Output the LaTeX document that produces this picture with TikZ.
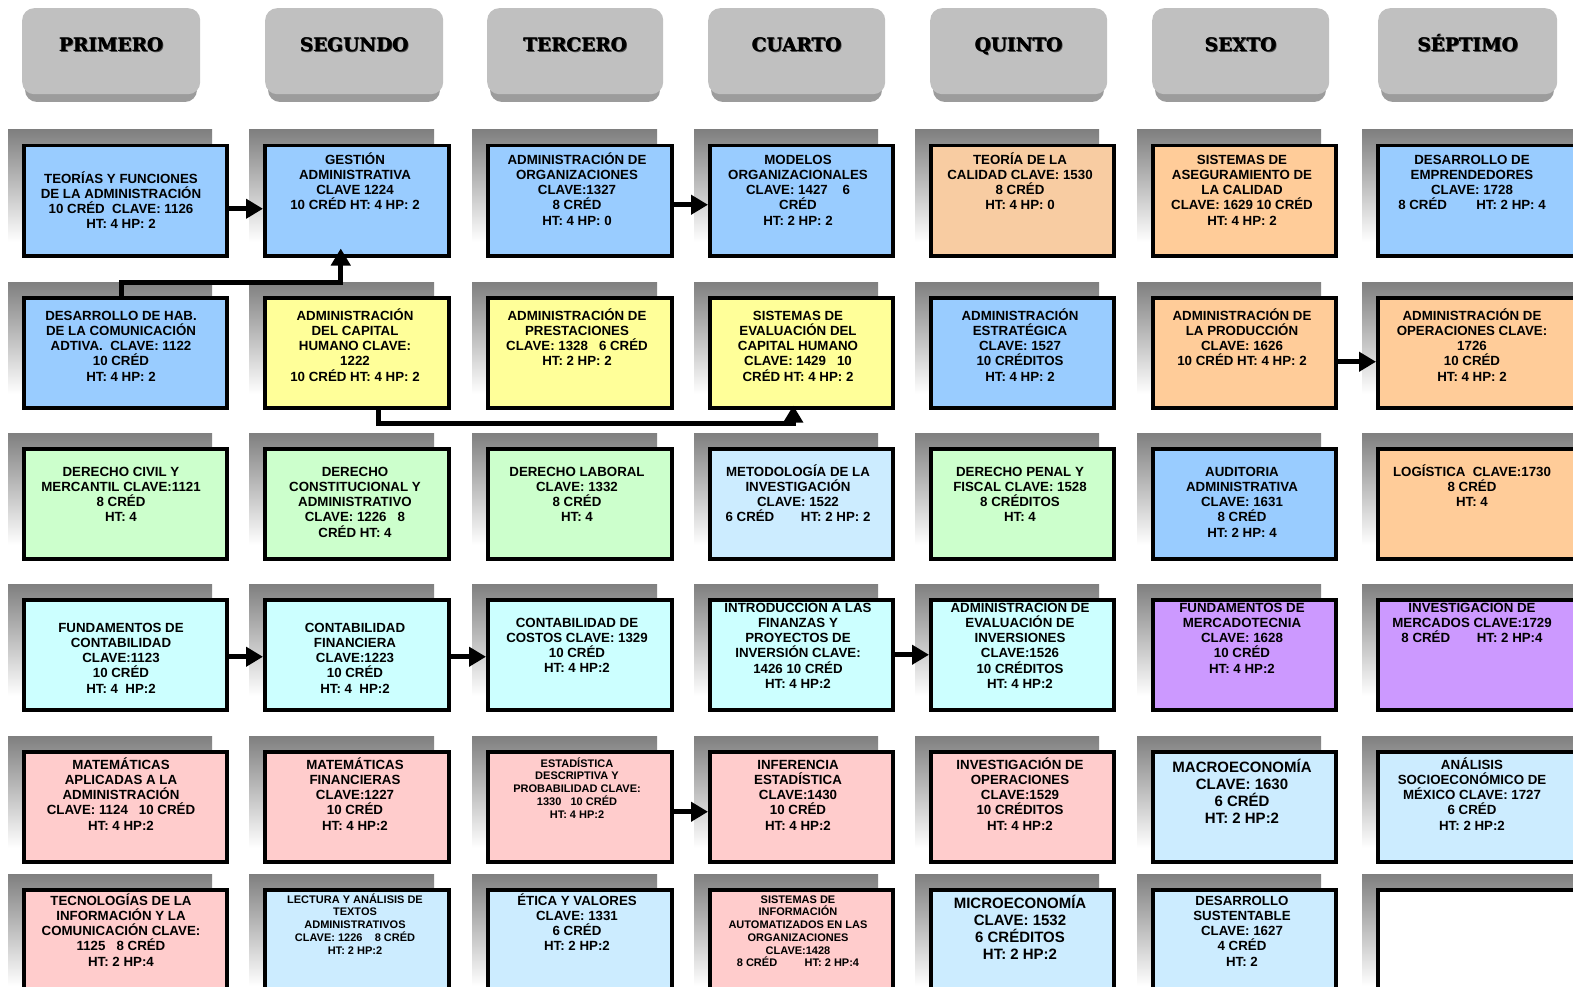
\documentclass[tikz,border=0pt]{standalone}
\usepackage{fontspec}
\setmainfont{Liberation Sans}
\newfontfamily\hdrfont{DejaVu Serif}
\usetikzlibrary{arrows.meta}
\definecolor{cblue}{HTML}{99CCFF}
\definecolor{cyellow}{HTML}{FFFF99}
\definecolor{cgreen}{HTML}{CCFFCC}
\definecolor{ccyan}{HTML}{CCFFFF}
\definecolor{cpink}{HTML}{FFCCCC}
\definecolor{clight}{HTML}{CCECFF}
\definecolor{corange}{HTML}{FFCC99}
\definecolor{corangeb}{HTML}{F8CCA2}
\definecolor{cpurple}{HTML}{CC99FF}
\definecolor{shade}{HTML}{C0C0C0}
\definecolor{hlight}{HTML}{C0C0C0}
\definecolor{hdark}{HTML}{9C9C9C}
\tikzset{
  box/.style={draw=black, line width=3.5pt, inner sep=0pt, anchor=north west},
  nt/.style={align=center, inner sep=0pt, anchor=north, yshift=8.2pt,
    font={\bfseries\fontsize{13.3}{15.3}\selectfont\def\mystrut{\rule{0pt}{13pt}}}},
  st/.style={align=center, inner sep=0pt, anchor=north, yshift=7pt,
    font={\bfseries\fontsize{11}{12.7}\selectfont\def\mystrut{\rule{0pt}{11pt}}}},
  lt/.style={align=center, inner sep=0pt, anchor=north, yshift=9.6pt,
    font={\bfseries\fontsize{15}{17}\selectfont\def\mystrut{\rule{0pt}{15pt}}}},
  hdr/.style={fill=hlight, rounded corners=12pt, inner sep=0pt, anchor=north west},
  htext/.style={font={\hdrfont\bfseries\fontsize{18.5}{21}\selectfont}, inner sep=0pt, anchor=base},
  arr/.style={line width=5pt, -{Triangle[length=17pt,width=19pt]}},
}
% name, xl, yt, xr, fill, cx, c1, textstyle, text
\newcommand\course[9]{%
  \fill[shade] (#2-14,#3-14) rectangle (#4-13,#3+98);
  \node[box, fill=#5, minimum width=#4-#2, minimum height=110] (#1) at (#2,#3) {};
  \node[#8] (#1t) at (#6,#7) {\mystrut #9};
}
% name, xl, xr, text
\newcommand\header[4]{%
  \fill[hdark, rounded corners=12pt] (#2+3,24) rectangle (#3-3,102);
  \node[hdr, minimum width=#3-#2, minimum height=86] (#1) at (#2,8) {};
  \node[htext, text=black!70] at ({(#2+#3)/2+1.2},52.2) {#4};
  \node[htext] at ({(#2+#3)/2+0.5},51.5) {#4};
  \node[htext] (#1t) at ({(#2+#3)/2},51.5) {#4};
}
\begin{document}
\begin{tikzpicture}[x=1pt,y=-1pt]
\useasboundingbox (0,0) rectangle (1573,987);
\clip (0,0) rectangle (1573,987);
\fill[white] (0,0) rectangle (1573,987);

\header{h1}{22}{200}{PRIMERO}
\header{h2}{265}{443}{SEGUNDO}
\header{h3}{487}{663}{TERCERO}
\header{h4}{708}{885}{CUARTO}
\header{h5}{930}{1107}{QUINTO}
\header{h6}{1152}{1329}{SEXTO}
\header{h7}{1378}{1557}{SÉPTIMO}

% Row 1
\course{t11}{22}{144}{225}{cblue}{121}{178}{nt}{TEORÍAS Y FUNCIONES\\DE LA ADMINISTRACIÓN\\10 CRÉD~~CLAVE: 1126\\HT: 4 HP: 2}
\course{t12}{263}{144}{447}{cblue}{355}{159}{nt}{GESTIÓN\\ADMINISTRATIVA\\CLAVE 1224\\10 CRÉD HT: 4 HP: 2}
\course{t13}{486}{144}{670}{cblue}{577}{159}{nt}{ADMINISTRACIÓN DE\\ORGANIZACIONES\\CLAVE:1327\\8 CRÉD\\HT: 4 HP: 0}
\course{t14}{708}{144}{891}{cblue}{798}{159}{nt}{MODELOS\\ORGANIZACIONALES\\CLAVE: 1427~~~~6\\CRÉD\\HT: 2 HP: 2}
\course{t15}{929}{144}{1112}{corangeb}{1020}{159}{nt}{TEORÍA DE LA\\CALIDAD CLAVE: 1530\\8 CRÉD\\HT: 4 HP: 0}
\course{t16}{1151}{144}{1334}{corange}{1242}{159}{nt}{SISTEMAS DE\\ASEGURAMIENTO DE\\LA CALIDAD\\CLAVE: 1629 10 CRÉD\\HT: 4 HP: 2}
\course{t17}{1376}{144}{1600}{cblue}{1472}{159}{nt}{DESARROLLO DE\\EMPRENDEDORES\\CLAVE: 1728\\8 CRÉD\hspace{2.2em}HT: 2 HP: 4}

% Row 2
\course{t21}{22}{296}{225}{cblue}{121}{315}{nt}{DESARROLLO DE HAB.\\DE LA COMUNICACIÓN\\ADTIVA.~~CLAVE: 1122\\10 CRÉD\\HT: 4 HP: 2}
\course{t22}{263}{296}{447}{cyellow}{355}{315}{nt}{ADMINISTRACIÓN\\DEL CAPITAL\\HUMANO CLAVE:\\1222\\10 CRÉD HT: 4 HP: 2}
\course{t23}{486}{296}{670}{cyellow}{577}{315}{nt}{ADMINISTRACIÓN DE\\PRESTACIONES\\CLAVE: 1328~~~6 CRÉD\\HT: 2 HP: 2}
\course{t24}{708}{296}{891}{cyellow}{798}{315}{nt}{SISTEMAS DE\\EVALUACIÓN DEL\\CAPITAL HUMANO\\CLAVE: 1429~~~10\\CRÉD HT: 4 HP: 2}
\course{t25}{929}{296}{1112}{cblue}{1020}{315}{nt}{ADMINISTRACIÓN\\ESTRATÉGICA\\CLAVE: 1527\\10 CRÉDITOS\\HT: 4 HP: 2}
\course{t26}{1151}{296}{1334}{corange}{1242}{315}{nt}{ADMINISTRACIÓN DE\\LA PRODUCCIÓN\\CLAVE: 1626\\10 CRÉD HT: 4 HP: 2}
\course{t27}{1376}{296}{1600}{corange}{1472}{315}{nt}{ADMINISTRACIÓN DE\\OPERACIONES CLAVE:\\1726\\10 CRÉD\\HT: 4 HP: 2}

% Row 3
\course{t31}{22}{447}{225}{cgreen}{121}{471}{nt}{DERECHO CIVIL Y\\MERCANTIL CLAVE:1121\\8 CRÉD\\HT: 4}
\course{t32}{263}{447}{447}{cgreen}{355}{471}{nt}{DERECHO\\CONSTITUCIONAL Y\\ADMINISTRATIVO\\CLAVE: 1226~~~8\\CRÉD HT: 4}
\course{t33}{486}{447}{670}{cgreen}{577}{471}{nt}{DERECHO LABORAL\\CLAVE: 1332\\8 CRÉD\\HT: 4}
\course{t34}{708}{447}{891}{clight}{798}{471}{nt}{METODOLOGÍA DE LA\\INVESTIGACIÓN\\CLAVE: 1522\\6 CRÉD\hspace{2em}HT: 2 HP: 2}
\course{t35}{929}{447}{1112}{cgreen}{1020}{471}{nt}{DERECHO PENAL Y\\FISCAL CLAVE: 1528\\8 CRÉDITOS\\HT: 4}
\course{t36}{1151}{447}{1334}{cblue}{1242}{471}{nt}{AUDITORIA\\ADMINISTRATIVA\\CLAVE: 1631\\8 CRÉD\\HT: 2 HP: 4}
\course{t37}{1376}{447}{1600}{corange}{1472}{471}{nt}{LOGÍSTICA~~CLAVE:1730\\8 CRÉD\\HT: 4}

% Row 4
\course{t41}{22}{598}{225}{ccyan}{121}{627}{nt}{FUNDAMENTOS DE\\CONTABILIDAD\\CLAVE:1123\\10 CRÉD\\HT: 4~~HP:2}
\course{t42}{263}{598}{447}{ccyan}{355}{627}{nt}{CONTABILIDAD\\FINANCIERA\\CLAVE:1223\\10 CRÉD\\HT: 4~~HP:2}
\course{t43}{486}{598}{670}{ccyan}{577}{622}{nt}{CONTABILIDAD DE\\COSTOS CLAVE: 1329\\10 CRÉD\\HT: 4 HP:2}
\course{t44}{708}{598}{891}{ccyan}{798}{607}{nt}{INTRODUCCIÓN A LAS\\FINANZAS Y\\PROYECTOS DE\\INVERSIÓN CLAVE:\\1426 10 CRÉD\\HT: 4 HP:2}
\course{t45}{929}{598}{1112}{ccyan}{1020}{607}{nt}{ADMINISTRACIÓN DE\\EVALUACIÓN DE\\INVERSIONES\\CLAVE:1526\\10 CRÉDITOS\\HT: 4 HP:2}
\course{t46}{1151}{598}{1334}{cpurple}{1242}{607}{nt}{FUNDAMENTOS DE\\MERCADOTECNIA\\CLAVE: 1628\\10 CRÉD\\HT: 4 HP:2}
\course{t47}{1376}{598}{1600}{cpurple}{1472}{607}{nt}{INVESTIGACIÓN DE\\MERCADOS CLAVE:1729\\8 CRÉD\hspace{2em}HT: 2 HP:4}

% Row 5
\course{t51}{22}{750}{225}{cpink}{121}{764}{nt}{MATEMÁTICAS\\APLICADAS A LA\\ADMINISTRACIÓN\\CLAVE: 1124~~~10 CRÉD\\HT: 4 HP:2}
\course{t52}{263}{750}{447}{cpink}{355}{764}{nt}{MATEMÁTICAS\\FINANCIERAS\\CLAVE:1227\\10 CRÉD\\HT: 4 HP:2}
\course{t53}{486}{750}{670}{cpink}{577}{763}{st}{ESTADÍSTICA\\DESCRIPTIVA Y\\PROBABILIDAD CLAVE:\\1330~~~10 CRÉD\\HT: 4 HP:2}
\course{t54}{708}{750}{891}{cpink}{798}{764}{nt}{INFERENCIA\\ESTADÍSTICA\\CLAVE:1430\\10 CRÉD\\HT: 4 HP:2}
\course{t55}{929}{750}{1112}{cpink}{1020}{764}{nt}{INVESTIGACIÓN DE\\OPERACIONES\\CLAVE:1529\\10 CRÉDITOS\\HT: 4 HP:2}
\course{t56}{1151}{750}{1334}{clight}{1242}{767}{lt}{MACROECONOMÍA\\CLAVE: 1630\\6 CRÉD\\HT: 2 HP:2}
\course{t57}{1376}{750}{1600}{clight}{1472}{764}{nt}{ANÁLISIS\\SOCIOECONÓMICO DE\\MÉXICO CLAVE: 1727\\6 CRÉD\\HT: 2 HP:2}

% Row 6
\course{t61}{22}{888}{225}{cpink}{121}{900}{nt}{TECNOLOGÍAS DE LA\\INFORMACIÓN Y LA\\COMUNICACIÓN CLAVE:\\1125~~~8 CRÉD\\HT: 2 HP:4}
\course{t62}{263}{888}{447}{clight}{355}{899}{st}{LECTURA Y ANÁLISIS DE\\TEXTOS\\ADMINISTRATIVOS\\CLAVE: 1226~~~~8 CRÉD\\HT: 2 HP:2}
\course{t63}{486}{888}{670}{clight}{577}{900}{nt}{ÉTICA Y VALORES\\CLAVE: 1331\\6 CRÉD\\HT: 2 HP:2}
\course{t64}{708}{888}{891}{cpink}{798}{899}{st}{SISTEMAS DE\\INFORMACIÓN\\AUTOMATIZADOS EN LAS\\ORGANIZACIONES\\CLAVE:1428\\8 CRÉD\hspace{2.5em}HT: 2 HP:4}
\course{t65}{929}{888}{1112}{clight}{1020}{903}{lt}{MICROECONOMÍA\\CLAVE: 1532\\6 CRÉDITOS\\HT: 2 HP:2}
\course{t66}{1151}{888}{1334}{clight}{1242}{900}{nt}{DESARROLLO\\SUSTENTABLE\\CLAVE: 1627\\4 CRÉD\\HT: 2}
\course{t67}{1376}{888}{1600}{white}{1472}{900}{nt}{}

% Arrows
\draw[arr] ([yshift=-8pt]t11.east) -- ([yshift=-8pt]t12.west);
\draw[arr] ([yshift=-4pt]t13.east) -- ([yshift=-4pt]t14.west);
\draw[arr] ([yshift=-9pt]t26.east) -- ([yshift=-9pt]t27.west);
\draw[arr] ([yshift=-2pt]t41.east) -- ([yshift=-2pt]t42.west);
\draw[arr] ([yshift=-2pt]t42.east) -- ([yshift=-2pt]t43.west);
\draw[arr] (t44.east) -- (t45.west);
\draw[arr] ([yshift=-5pt]t53.east) -- ([yshift=-5pt]t54.west);
\draw[arr] ([xshift=-3.5pt]t21.north) -- ++(0,-14) -| ([xshift=-16pt,yshift=9pt]t12.south);
\draw[arr] ([xshift=22pt]t22.south) -- ++(0,14) -| ([xshift=-8pt,yshift=4pt]t24.south);
\end{tikzpicture}
\end{document}
